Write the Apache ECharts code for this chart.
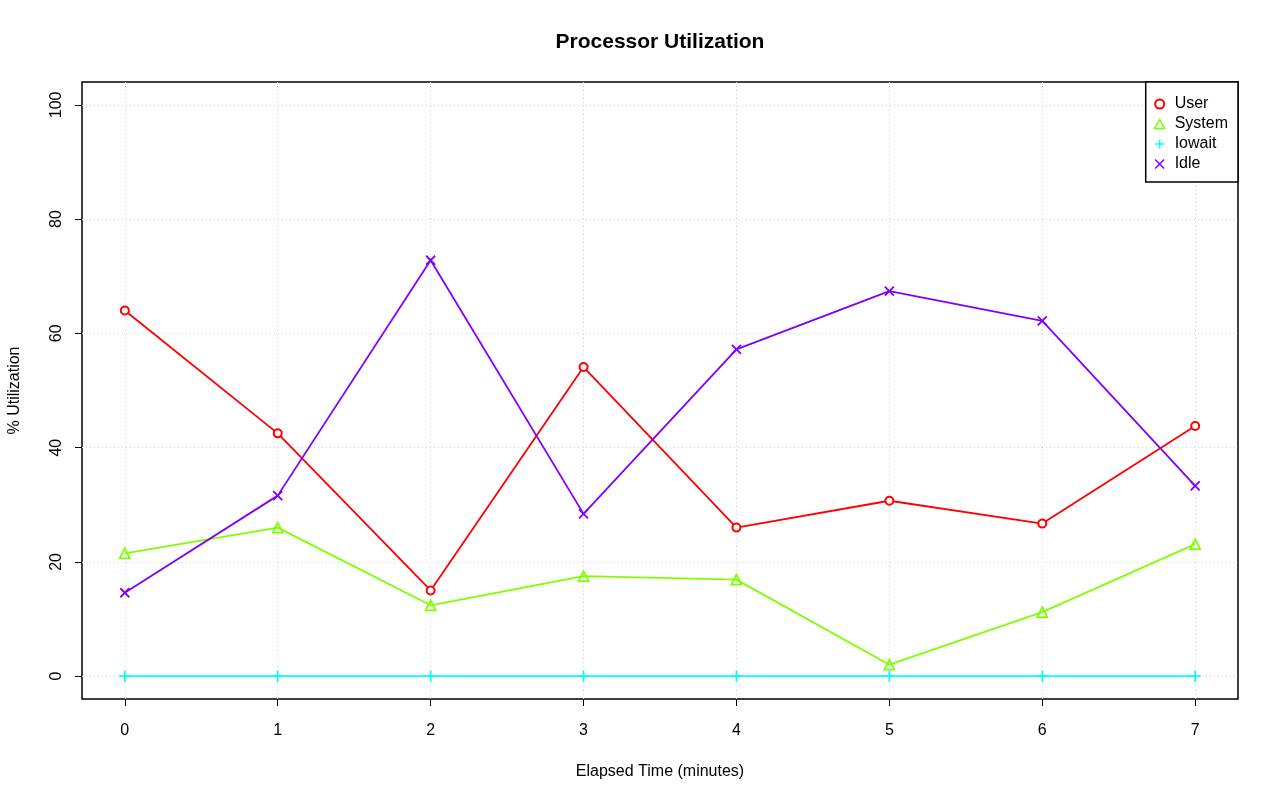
<!DOCTYPE html>
<html>
<head>
<meta charset="utf-8">
<script src="https://cdn.jsdelivr.net/npm/echarts@6/dist/echarts.min.js"></script>
<style>
html,body{margin:0;padding:0;background:#fff;}
#chart{width:1280px;height:801px;}
</style>
</head>
<body>
<div id="chart"></div>
<script>
const minutes = [0, 1, 2, 3, 4, 5, 6, 7];
const userVals = [64.0, 42.5, 15.0, 54.1, 26.0, 30.7, 26.7, 43.8];
const systemVals = [21.5, 26.0, 12.4, 17.5, 16.9, 2.0, 11.2, 23.1];
const iowaitVals = [0, 0, 0, 0, 0, 0, 0, 0];
const idleVals = [14.6, 31.6, 72.8, 28.4, 57.2, 67.4, 62.2, 33.3];
const xTicks = [0, 1, 2, 3, 4, 5, 6, 7];
const yTicks = [0, 20, 40, 60, 80, 100];
const seriesNames = ['User', 'System', 'Iowait', 'Idle'];
const seriesColors = ['#FF0000', '#80FF00', '#00FFFF', '#8000FF'];

const FONT = 'Liberation Sans, Arial, sans-serif';
const symCircle = 'emptyCircle';
const symTri = 'path://M5,0L10,8.66L0,8.66Z';
const symPlus = 'path://M5,0L5,10M0,5L10,5';
const symX = 'path://M0,0L10,10M10,0L0,10';
const symbols = [symCircle, symTri, symPlus, symX];
const symbolSizes = [8, 10, 11, 9];
const valueSets = [userVals, systemVals, iowaitVals, idleVals];

const chart = echarts.init(document.getElementById('chart'), null, {renderer: 'canvas'});

const series = seriesNames.map((name, i) => ({
  name: name,
  type: 'line',
  data: minutes.map((m, j) => [m, valueSets[i][j]]),
  symbol: symbols[i],
  symbolSize: symbolSizes[i],
  showAllSymbol: true,
  lineStyle: {color: seriesColors[i], width: 1.8},
  itemStyle: i === 0
    ? {color: seriesColors[i], borderColor: seriesColors[i], borderWidth: 1.8}
    : {color: 'rgba(0,0,0,0)', borderColor: seriesColors[i], borderWidth: 1.8},
  emphasis: {disabled: true},
  animation: false,
  z: 3
}));

chart.setOption({
  animation: false,
  backgroundColor: '#ffffff',
  title: {
    text: 'Processor Utilization',
    left: 660,
    textAlign: 'center',
    top: 32,
    padding: 0,
    textStyle: {fontFamily: FONT, fontSize: 21, fontWeight: 'bold', color: '#000'}
  },
  grid: {
    left: 82, right: 42, top: 82, bottom: 102,
    show: true, borderColor: '#000', borderWidth: 1.5,
    containLabel: false,
    outerBoundsMode: 'none'
  },
  legend: {
    orient: 'vertical',
    right: 42, top: 82,
    backgroundColor: '#fff',
    borderColor: '#000', borderWidth: 1.5, borderRadius: 0,
    padding: [14, 10, 10, 8],
    itemWidth: 14, itemHeight: 9, itemGap: 4,
    textStyle: {fontFamily: FONT, fontSize: 16, color: '#000', lineHeight: 16, padding: [0, 0, 0, 3]},
    data: seriesNames.map((n, i) => ({name: n, icon: symbols[i]})),
    itemStyle: {borderWidth: 1.5},
    selectedMode: false,
    z: 10
  },
  xAxis: {
    type: 'value',
    min: -0.28, max: 7.28,
    name: 'Elapsed Time (minutes)',
    nameLocation: 'middle',
    nameGap: 65,
    nameTextStyle: {fontFamily: FONT, fontSize: 16, color: '#000'},
    axisLine: {show: false, onZero: false},
    axisTick: {show: true, inside: false, customValues: xTicks, length: 7, lineStyle: {color: '#000', width: 1}},
    axisLabel: {customValues: xTicks, margin: 24, fontFamily: FONT, fontSize: 16, color: '#000'},
    splitLine: {show: true, lineStyle: {color: '#d3d3d3', type: [1, 3], width: 1}}
  },
  yAxis: {
    type: 'value',
    min: -4, max: 104,
    name: '% Utilization',
    nameLocation: 'middle',
    nameGap: 59,
    nameRotate: 90,
    nameTextStyle: {fontFamily: FONT, fontSize: 16, color: '#000'},
    axisLine: {show: false, onZero: false},
    axisTick: {show: true, inside: false, customValues: yTicks, length: 7, lineStyle: {color: '#000', width: 1}},
    axisLabel: {customValues: yTicks, margin: 17, rotate: 90, fontFamily: FONT, fontSize: 16, color: '#000'},
    splitLine: {show: true, lineStyle: {color: '#d3d3d3', type: [1, 3], width: 1}}
  },
  series: series
});
</script>
</body>
</html>
